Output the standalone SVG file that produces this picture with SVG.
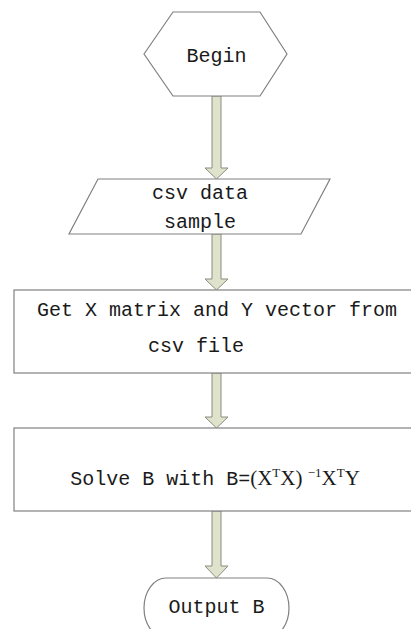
<svg xmlns="http://www.w3.org/2000/svg" width="411" height="629" viewBox="0 0 411 629">
<style>
.shape{fill:#ffffff;stroke:#808080;stroke-width:1.2}
.arrow{fill:#dfe3cc;stroke:#8c8c80;stroke-width:1}
.t{font-family:"Liberation Mono","DejaVu Sans Mono",monospace;font-size:20px;fill:#1a1a1a;text-anchor:middle}
.m{font-family:"Liberation Serif","Times New Roman",serif;font-size:21px}
.s{font-family:"Liberation Serif","Times New Roman",serif;font-size:13px}
</style>
<rect width="411" height="629" fill="#ffffff"/>
<g id="connectors">
<path class="arrow" d="M212,96 L221,96 L221,168 L228,168 L216.5,179 L205,168 L212,168 Z"/>
<path class="arrow" d="M212,234 L221,234 L221,279 L228,279 L216.5,290 L205,279 L212,279 Z"/>
<path class="arrow" d="M212,373 L221,373 L221,417 L228,417 L216.5,428 L205,417 L212,417 Z"/>
<path class="arrow" d="M212,511 L221,511 L221,566 L228,566 L216.5,578 L205,566 L212,566 Z"/>
</g>
<g id="begin">
<polygon class="shape" points="144,54 173,12 260,12 287,54 260,96 173,96"/>
<text class="t" x="216.5" y="62">Begin</text>
</g>
<g id="csv-data">
<polygon class="shape" points="98,179 330,179 301,234 69,234"/>
<text class="t" x="200" y="199">csv data</text>
<text class="t" x="200" y="228">sample</text>
</g>
<g id="get-matrix">
<rect class="shape" x="14" y="290" width="410" height="83"/>
<text class="t" x="217" y="316">Get X matrix and Y vector from</text>
<text class="t" x="196" y="352">csv file</text>
</g>
<g id="solve">
<rect class="shape" x="14" y="428" width="410" height="83"/>
<text class="t" x="215" y="485" text-anchor="middle">Solve B with B=<tspan class="m">(X</tspan><tspan class="s" dy="-8">T</tspan><tspan class="m" dy="8">X) </tspan><tspan class="s" dy="-8">−1</tspan><tspan class="m" dy="8">X</tspan><tspan class="s" dy="-8">T</tspan><tspan class="m" dy="8">Y</tspan></text>
</g>
<g id="output">
<path class="shape" d="M166,578 L267,578 A22,30 0 0 1 267,638 L166,638 A22,30 0 0 1 166,578 Z"/>
<text class="t" x="216.5" y="613">Output B</text>
</g>
</svg>
